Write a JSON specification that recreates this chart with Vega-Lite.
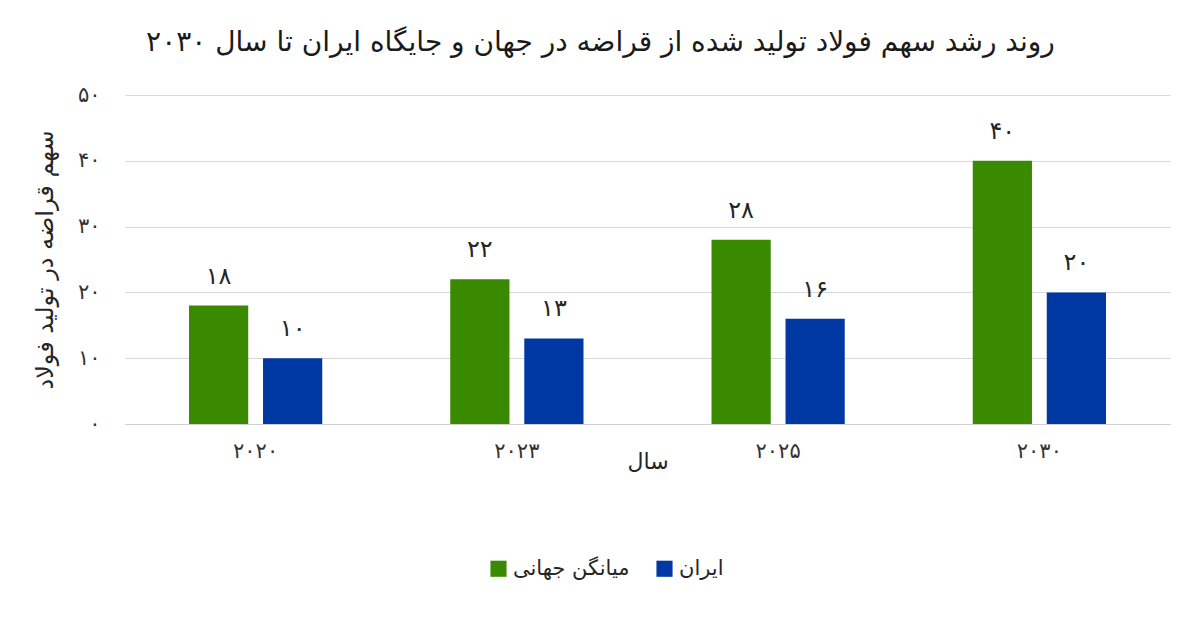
{
  "$schema": "https://vega.github.io/schema/vega-lite/v6.json",
  "autosize": {"type": "none"},
  "width": 1045,
  "height": 329,
  "padding": {"left": 125, "top": 95, "right": 30, "bottom": 193},
  "background": "white",
  "config": {"font": "DejaVu Sans", "view": {"stroke": null}},
  "title": {
    "text": "روند رشد سهم فولاد تولید شده از قراضه در جهان و جایگاه ایران تا سال ۲۰۳۰",
    "fontSize": 28,
    "fontWeight": "normal",
    "color": "#1a1a1a",
    "anchor": "middle",
    "dx": -47,
    "offset": 27
  },
  "data": {
    "values": [
      {"year": "2020", "series": "میانگن جهانی", "value": 18},
      {"year": "2020", "series": "ایران", "value": 10},
      {"year": "2023", "series": "میانگن جهانی", "value": 22},
      {"year": "2023", "series": "ایران", "value": 13},
      {"year": "2025", "series": "میانگن جهانی", "value": 28},
      {"year": "2025", "series": "ایران", "value": 16},
      {"year": "2030", "series": "میانگن جهانی", "value": 40},
      {"year": "2030", "series": "ایران", "value": 20}
    ]
  },
  "encoding": {
    "x": {
      "field": "year",
      "type": "nominal",
      "scale": {"paddingInner": 0.49, "paddingOuter": 0.245},
      "title": "سال",
      "axis": {
        "labelAngle": 0,
        "labelFontSize": 21,
        "labelColor": "#333333",
        "labelPadding": 16,
        "labelExpr": "replace(replace(replace(replace(replace(replace(replace(replace(replace(replace(datum.label,regexp('0','g'),'۰'),regexp('1','g'),'۱'),regexp('2','g'),'۲'),regexp('3','g'),'۳'),regexp('4','g'),'۴'),regexp('5','g'),'۵'),regexp('6','g'),'۶'),regexp('7','g'),'۷'),regexp('8','g'),'۸'),regexp('9','g'),'۹')",
        "ticks": false,
        "domain": true,
        "domainColor": "#d0d0d0",
        "titleFontSize": 22,
        "titleFontWeight": "normal",
        "titleColor": "#262626",
        "titlePadding": -10
      }
    },
    "xOffset": {
      "field": "series",
      "type": "nominal",
      "sort": ["میانگن جهانی", "ایران"],
      "scale": {"paddingInner": 0.2}
    },
    "y": {
      "field": "value",
      "type": "quantitative",
      "scale": {"domain": [0, 50], "nice": false},
      "title": "سهم قراضه در تولید فولاد",
      "axis": {
        "values": [0, 10, 20, 30, 40, 50],
        "labelFontSize": 21,
        "labelColor": "#333333",
        "labelPadding": 25,
        "labelExpr": "replace(replace(replace(replace(replace(replace(replace(replace(replace(replace(datum.label,regexp('0','g'),'۰'),regexp('1','g'),'۱'),regexp('2','g'),'۲'),regexp('3','g'),'۳'),regexp('4','g'),'۴'),regexp('5','g'),'۵'),regexp('6','g'),'۶'),regexp('7','g'),'۷'),regexp('8','g'),'۸'),regexp('9','g'),'۹')",
        "ticks": false,
        "domain": false,
        "grid": true,
        "gridColor": "#d9d9d9",
        "titleFontSize": 24,
        "titleFontWeight": "normal",
        "titleColor": "#262626",
        "titlePadding": 20
      }
    }
  },
  "layer": [
    {
      "mark": {"type": "bar"},
      "encoding": {
        "color": {
          "field": "series",
          "type": "nominal",
          "sort": ["میانگن جهانی", "ایران"],
          "scale": {"domain": ["میانگن جهانی", "ایران"], "range": ["#3a8a00", "#0038a3"]},
          "legend": {
            "orient": "none",
            "legendX": 363,
            "legendY": 463,
            "direction": "horizontal",
            "title": null,
            "symbolType": "square",
            "symbolSize": 260,
            "symbolStrokeWidth": 0,
            "labelFontSize": 21,
            "labelColor": "#262626",
            "columnPadding": 24
          }
        }
      }
    },
    {
      "transform": [
        {"calculate": "replace(replace(replace(replace(replace(replace(replace(replace(replace(replace(toString(datum.value),regexp('0','g'),'۰'),regexp('1','g'),'۱'),regexp('2','g'),'۲'),regexp('3','g'),'۳'),regexp('4','g'),'۴'),regexp('5','g'),'۵'),regexp('6','g'),'۶'),regexp('7','g'),'۷'),regexp('8','g'),'۸'),regexp('9','g'),'۹')", "as": "label"}
      ],
      "mark": {"type": "text", "baseline": "middle", "dy": -29, "fontSize": 24, "color": "#262626"},
      "encoding": {"text": {"field": "label", "type": "nominal"}}
    }
  ]
}
